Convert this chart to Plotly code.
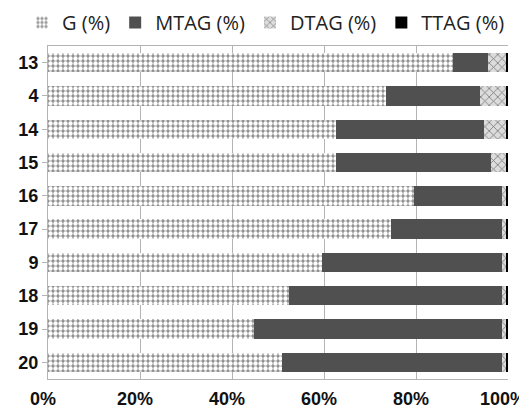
import plotly.graph_objects as go

categories = ["13", "4", "14", "15", "16", "17", "9", "18", "19", "20"]
g_pct = [88.0, 73.4, 62.5, 62.5, 79.5, 74.5, 59.6, 52.3, 44.7, 50.9]
mtag_pct = [7.7, 20.6, 32.2, 33.7, 19.2, 24.2, 39.1, 46.4, 54.0, 47.8]
dtag_pct = [3.8, 5.5, 4.8, 3.3, 0.8, 0.8, 0.8, 0.8, 0.8, 0.8]
ttag_pct = [0.5, 0.5, 0.5, 0.5, 0.5, 0.5, 0.5, 0.5, 0.5, 0.5]
x_ticks = [0, 20, 40, 60, 80, 100]
x_ticklabels = ["0%", "20%", "40%", "60%", "80%", "100%"]

fig = go.Figure()
fig.add_trace(go.Bar(
    y=categories, x=g_pct, orientation="h", name="G (%)",
    marker=dict(color="#8a8a8a", line=dict(width=0),
                pattern=dict(shape=".", fgcolor="white", bgcolor="#8f8f8f",
                             size=5, solidity=0.6, fillmode="replace")),
))
fig.add_trace(go.Bar(
    y=categories, x=mtag_pct, orientation="h", name="MTAG (%)",
    marker=dict(color="#505050", line=dict(width=0)),
))
fig.add_trace(go.Bar(
    y=categories, x=dtag_pct, orientation="h", name="DTAG (%)",
    marker=dict(color="#d8d8d8", line=dict(width=0),
                pattern=dict(shape="x", fgcolor="#777777", bgcolor="#dcdcdc",
                             size=6, solidity=0.25, fillmode="replace")),
))
fig.add_trace(go.Bar(
    y=categories, x=ttag_pct, orientation="h", name="TTAG (%)",
    marker=dict(color="black", line=dict(width=0)),
))

fig.update_layout(
    barmode="stack",
    bargap=0.42,
    width=519, height=398,
    margin=dict(l=40, r=19, t=38, b=27, autoexpand=False),
    plot_bgcolor="white", paper_bgcolor="white",
    legend=dict(orientation="h", x=-0.0565, xanchor="left",
                y=1.012, yanchor="bottom", bgcolor="rgba(0,0,0,0)",
                font=dict(family="Open Sans", size=20, color="#222222"),
                traceorder="normal", itemwidth=30, borderwidth=0),
    xaxis=dict(range=[0, 100], tickvals=x_ticks, ticktext=x_ticklabels,
               showgrid=True, gridcolor="#b4b4b4", gridwidth=1,
               showline=True, linecolor="#b4b4b4", mirror=True, zeroline=False,
               tickfont=dict(family="Liberation Sans", size=18, color="#111111", weight="bold"),
               ticks="", ticklabelstandoff=3, ticklabelshift=-5),
    yaxis=dict(categoryorder="array", categoryarray=categories, autorange="reversed",
               showline=True, linecolor="#b4b4b4", showgrid=False,
               ticks="outside", tickcolor="#b4b4b4", ticklen=5,
               tickfont=dict(family="Liberation Sans", size=18, color="#111111", weight="bold")),
)

fig.write_html("out.html")
